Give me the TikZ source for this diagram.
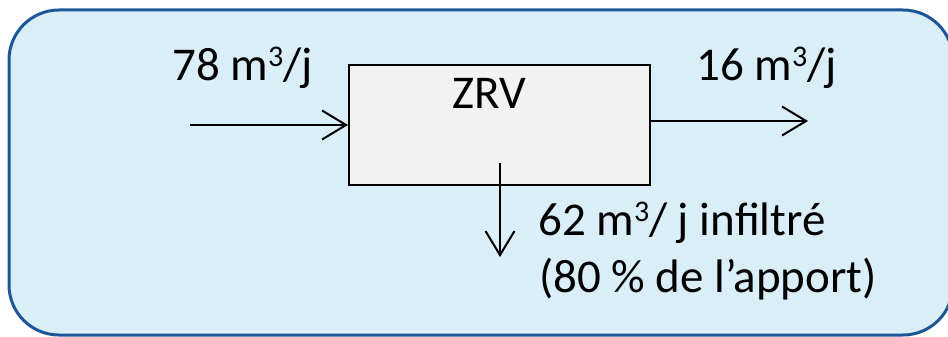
\documentclass[tikz,border=0pt]{standalone}
\usepackage{fontspec}
\setmainfont{Carlito}
\usetikzlibrary{arrows.meta}
\definecolor{panelfill}{RGB}{218,238,248}
\definecolor{panelline}{RGB}{28,86,150}
\definecolor{boxfill}{RGB}{242,242,242}
\newcommand{\cubesup}{\raisebox{14pt}{\fontsize{30}{30}\selectfont 3}}
\begin{document}
\begin{tikzpicture}[x=1pt,y=-1pt,
  lbl/.style={anchor=base west,inner sep=0pt,font=\fontsize{47}{56}\selectfont},
  flow/.style={draw=black,line width=2pt,-{Straight Barb[length=24pt,width=29pt,line width=2pt]}},
  zone/.style={draw=black,line width=2pt,fill=boxfill,minimum width=301pt,minimum height=120pt,inner sep=0pt}]
\useasboundingbox (0,0) rectangle (948,337);
\path[clip] (0,0) rectangle (948,337);
\draw[panelline,line width=3pt,fill=panelfill,rounded corners=50pt] (9,10) rectangle (953,335);
\node[zone] (zrv) at (499.5,125) {};
\node[lbl] (tzrv) at (452,108) {ZRV};
\node[lbl] (tin) at (172,81) {78 m\cubesup/j};
\node[lbl] (tout) at (696,81) {16 m\cubesup/j};
\node[lbl] (tinf1) at (538,235) {62 m\cubesup/ j infiltré};
\node[lbl] (tinf2) at (539,292) {(80 \% de l’apport)};
\coordinate (src) at (190,125);
\coordinate (outR) at (808,121);
\coordinate (dtop) at (500,163);
\coordinate (dbot) at (500,257);
\draw[flow] (src) -- (zrv.west);
\draw[flow] (zrv.east |- outR) -- (outR);
\draw[flow] (dtop) -- (dbot);
\end{tikzpicture}
\end{document}
